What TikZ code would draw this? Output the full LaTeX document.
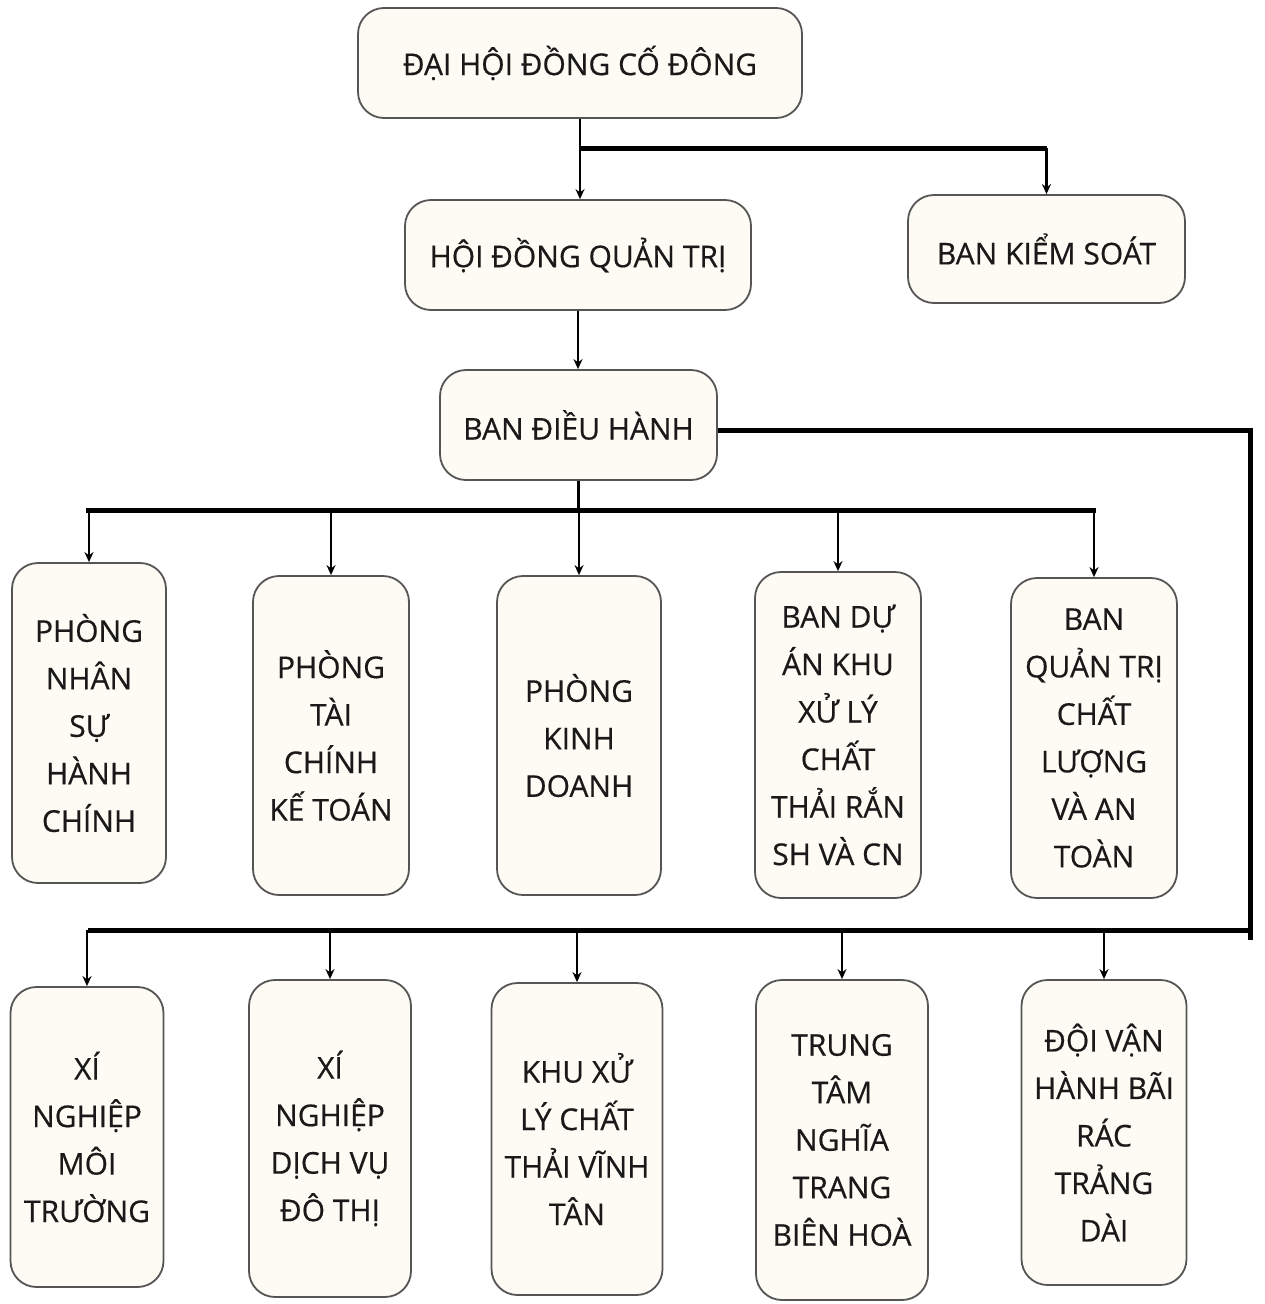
\documentclass[tikz,border=0pt]{standalone}
\usepackage{fontspec}
\setmainfont{Open Sans}[FakeBold=0.5]
\usetikzlibrary{arrows.meta}
\definecolor{boxfill}{HTML}{FDFBF4}
\definecolor{boxline}{HTML}{555555}
\tikzset{
  orgbox/.style={draw=boxline, fill=boxfill, line width=1.8pt, rounded corners=26pt,
    align=center, inner sep=0pt, font=\fontsize{30}{47.5}\selectfont, text=black!90},
  busline/.style={line width=5pt, draw=black},
  dropline/.style={line width=2.2pt, draw=black, -{Stealth[length=10pt,width=9pt]}},
}
\begin{document}
\begin{tikzpicture}[x=1pt,y=-1pt]
\useasboundingbox (0,0) rectangle (1264,1304);
% top levels
\node[orgbox, minimum width=444, minimum height=110] (dh) at (580,63) {ĐẠI HỘI ĐỒNG CỐ ĐÔNG};
\node[orgbox, minimum width=346, minimum height=110] (hd) at (578,255) {HỘI ĐỒNG QUẢN TRỊ};
\node[orgbox, minimum width=277, minimum height=108] (bks) at (1046.5,249) {BAN KIỂM SOÁT};
\node[orgbox, minimum width=277, minimum height=110] (bdh) at (578.5,425) {BAN ĐIỀU HÀNH};
% row 1
\node[orgbox, minimum width=154, minimum height=320] (r1a) at (89,723) {PHÒNG\\NHÂN\\SỰ\\HÀNH\\CHÍNH};
\node[orgbox, minimum width=156, minimum height=319] (r1b) at (331,735.5) {PHÒNG\\TÀI\\CHÍNH\\KẾ TOÁN};
\node[orgbox, minimum width=164, minimum height=319] (r1c) at (579,735.5) {PHÒNG\\KINH\\DOANH};
\node[orgbox, minimum width=166, minimum height=326] (r1d) at (838,735) {BAN DỰ\\ÁN KHU\\XỬ LÝ\\CHẤT\\THẢI RẮN\\SH VÀ CN};
\node[orgbox, minimum width=166, minimum height=320] (r1e) at (1094,738) {BAN\\QUẢN TRỊ\\CHẤT\\LƯỢNG\\VÀ AN\\TOÀN};
% row 2
\node[orgbox, minimum width=153, minimum height=300] (r2a) at (87,1137) {XÍ\\NGHIỆP\\MÔI\\TRƯỜNG};
\node[orgbox, minimum width=162, minimum height=317] (r2b) at (330,1138.5) {XÍ\\NGHIỆP\\DỊCH VỤ\\ĐÔ THỊ};
\node[orgbox, minimum width=171, minimum height=312] (r2c) at (577,1139) {KHU XỬ\\LÝ CHẤT\\THẢI VĨNH\\TÂN};
\node[orgbox, minimum width=172, minimum height=320] (r2d) at (842,1140) {TRUNG\\TÂM\\NGHĨA\\TRANG\\BIÊN HOÀ};
\node[orgbox, minimum width=165, minimum height=305] (r2e) at (1104,1132.5) {ĐỘI VẬN\\HÀNH BÃI\\RÁC\\TRẢNG\\DÀI};
% coordinates
\coordinate (b0) at (580,148);
\coordinate (b1L) at (86,510);
\coordinate (b1R) at (1096,510);
\coordinate (cTR) at (1250,430);
\coordinate (cBR) at (1250,940);
\coordinate (b2R) at (1250,930);
\coordinate (b2L) at (88,930);
% top connectors
\draw[dropline] (dh.south) -- (dh.south |- hd.north);
\draw[busline] (b0) -- (b0 -| bks.north);
\draw[dropline] (b0 -| bks.north) -- (bks.north);
\draw[dropline] (hd.south) -- (hd.south |- bdh.north);
% bus 1
\draw[busline] (b1L) -- (b1R);
\draw[line width=2.2pt] (bdh.south) -- (bdh.south |- b1L);
\foreach \n in {r1a,r1b,r1c,r1d,r1e}{
  \draw[dropline] (\n.north |- b1L) -- (\n.north);
}
% bus 2
\draw[busline] (bdh.east |- cTR) -- (cTR) -- (cBR);
\draw[busline] (b2R) -- (b2L);
\foreach \n in {r2a,r2b,r2c,r2d,r2e}{
  \draw[dropline] (\n.north |- b2L) -- (\n.north);
}
\end{tikzpicture}
\end{document}
